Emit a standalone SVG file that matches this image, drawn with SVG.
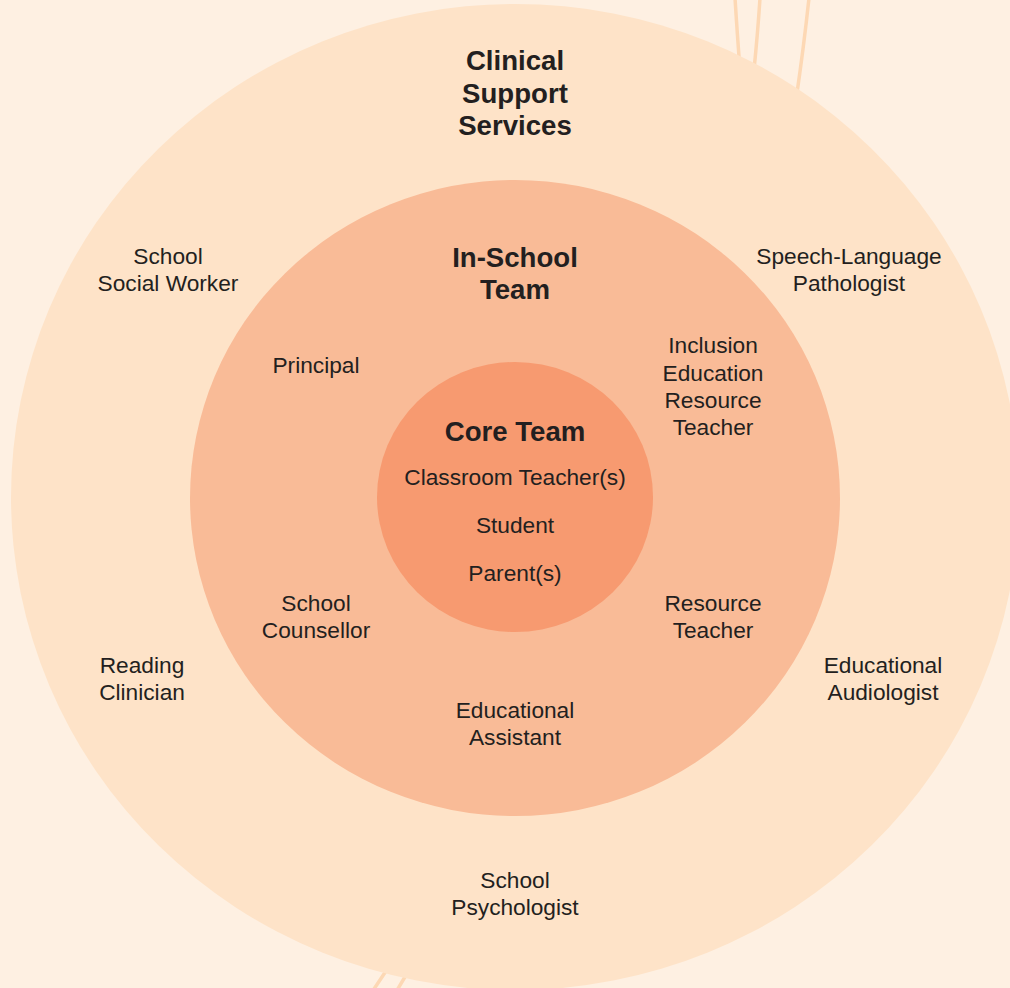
<svg xmlns="http://www.w3.org/2000/svg" width="1010" height="988" viewBox="0 0 1010 988">
  <style>
    .t { font-family: "Liberation Sans", Arial, sans-serif; font-size: 22.7px; fill: #231F20; text-anchor: middle; }
    .h { font-family: "Liberation Sans", Arial, sans-serif; font-size: 27.6px; font-weight: bold; fill: #231F20; text-anchor: middle; }
    .strand { fill: none; stroke: #FDD8B4; stroke-width: 3.5; stroke-linecap: round; }
  </style>

  <!-- page background -->
  <rect x="0" y="0" width="1010" height="988" fill="#FEF0E2"/>

  <!-- decorative strands behind the rings -->
  <g id="strands">
    <path class="strand" d="M735,-2 Q737,30 740,70"/>
    <path class="strand" d="M760,-2 Q758,30 754,70"/>
    <path class="strand" d="M809,-2 Q804,45 796,100"/>
    <path class="strand" d="M390,965 L372,992"/>
    <path class="strand" d="M412,965 L396,992"/>
  </g>

  <!-- outer ring: clinical support services -->
  <g id="clinical-support">
    <ellipse cx="515" cy="497" rx="504" ry="493" fill="#FEE3C8"/>
    <text class="h" x="515" y="70">Clinical</text>
    <text class="h" x="515" y="103">Support</text>
    <text class="h" x="515" y="135">Services</text>
  </g>

  <!-- middle ring: in-school team -->
  <g id="in-school">
    <ellipse cx="515" cy="498" rx="325" ry="318" fill="#F9BB97"/>
    <text class="h" x="515" y="267">In-School</text>
    <text class="h" x="515" y="299">Team</text>
  </g>

  <!-- inner ring: core team -->
  <g id="core-team">
    <ellipse cx="515" cy="497" rx="138" ry="135" fill="#F79A70"/>
    <text class="h" x="515" y="441">Core Team</text>
    <text class="t" x="515" y="485">Classroom Teacher(s)</text>
    <text class="t" x="515" y="533">Student</text>
    <text class="t" x="515" y="581">Parent(s)</text>
  </g>

  <!-- in-school roles -->
  <g id="principal"><text class="t" x="316" y="373">Principal</text></g>
  <g id="inclusion-teacher">
    <text class="t" x="713" y="353">Inclusion</text>
    <text class="t" x="713" y="381">Education</text>
    <text class="t" x="713" y="408">Resource</text>
    <text class="t" x="713" y="435">Teacher</text>
  </g>
  <g id="counsellor">
    <text class="t" x="316" y="611">School</text>
    <text class="t" x="316" y="638">Counsellor</text>
  </g>
  <g id="resource-teacher">
    <text class="t" x="713" y="611">Resource</text>
    <text class="t" x="713" y="638">Teacher</text>
  </g>
  <g id="educational-assistant">
    <text class="t" x="515" y="718">Educational</text>
    <text class="t" x="515" y="745">Assistant</text>
  </g>

  <!-- clinical roles -->
  <g id="social-worker">
    <text class="t" x="168" y="264">School</text>
    <text class="t" x="168" y="291">Social Worker</text>
  </g>
  <g id="slp">
    <text class="t" x="849" y="264">Speech-Language</text>
    <text class="t" x="849" y="291">Pathologist</text>
  </g>
  <g id="reading-clinician">
    <text class="t" x="142" y="673">Reading</text>
    <text class="t" x="142" y="700">Clinician</text>
  </g>
  <g id="audiologist">
    <text class="t" x="883" y="673">Educational</text>
    <text class="t" x="883" y="700">Audiologist</text>
  </g>
  <g id="psychologist">
    <text class="t" x="515" y="888">School</text>
    <text class="t" x="515" y="915">Psychologist</text>
  </g>
</svg>
